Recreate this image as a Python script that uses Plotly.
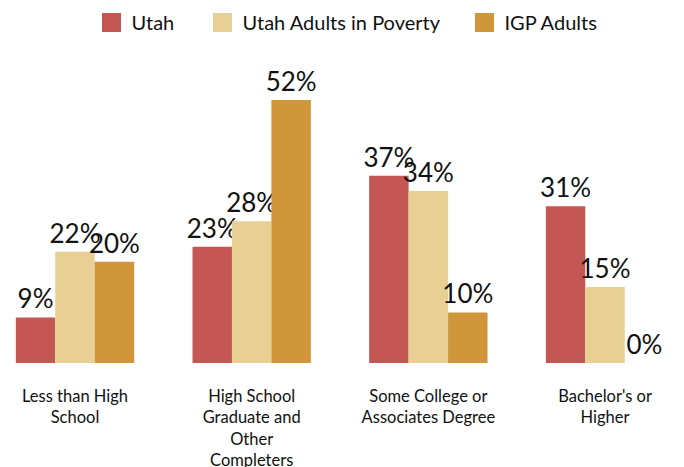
import plotly.graph_objects as go

categories = ["Less than High<br>School",
              "High School<br>Graduate and<br>Other<br>Completers",
              "Some College or<br>Associates Degree",
              "Bachelor's or<br>Higher"]
series_names = ["Utah", "Utah Adults in Poverty", "IGP Adults"]
utah = [9, 23, 37, 31]
utah_poverty = [22, 28, 34, 15]
igp_adults = [20, 52, 10, 0]
colors = ["#C45653", "#E8CF93", "#CF963A"]

FONT = "Lato"
legend_ids = ["legend", "legend2", "legend3"]
legend_x = [91.5 / 684, 202.5 / 684, 464.5 / 684]

fig = go.Figure()
for name, vals, col, lid in zip(series_names, [utah, utah_poverty, igp_adults], colors, legend_ids):
    fig.add_trace(go.Bar(
        x=categories, y=vals, name=name, marker_color=col,
        marker_line_width=0,
        text=[f"{v}%" for v in vals], textposition="outside",
        constraintext="none",
        textfont=dict(family=FONT, size=26, color="#111111"),
        cliponaxis=False, showlegend=False, hoverinfo="skip",
    ))
    # legend-only marker for a larger square swatch
    fig.add_trace(go.Scatter(
        x=[None], y=[None], mode="markers", name=name, legend=lid,
        marker=dict(symbol="square", size=16, color=col, line=dict(color=col, width=3)),
        showlegend=True,
    ))

leg_common = dict(orientation="h", yref="container", y=1 - 22.5 / 467, yanchor="middle",
                  xanchor="left", font=dict(family=FONT, size=20, color="#111111"),
                  itemclick=False, itemdoubleclick=False, bgcolor="rgba(0,0,0,0)")
fig.update_layout(
    width=684, height=467,
    margin=dict(l=0, r=0, t=60, b=104, autoexpand=False),
    paper_bgcolor="white", plot_bgcolor="white",
    barmode="group", bargap=0.33, bargroupgap=0,
    font=dict(family=FONT, color="#111111"),
    legend=dict(x=legend_x[0], **leg_common),
    legend2=dict(x=legend_x[1], **leg_common),
    legend3=dict(x=legend_x[2], **leg_common),
    showlegend=True,
)
fig.update_xaxes(type="category", range=[-0.4245, 3.447], showgrid=False, showline=False,
                 zeroline=False, ticks="outside", ticklen=18, tickcolor="rgba(0,0,0,0)",
                 tickfont=dict(family=FONT, size=16.5, color="#111111"), automargin=False)
fig.update_yaxes(range=[0, 59.9], visible=False, showgrid=False, zeroline=False)
fig.write_html("out.html", config={"displayModeBar": False},
               post_script="document.body.style.margin='0px';document.body.style.overflow='hidden';")
